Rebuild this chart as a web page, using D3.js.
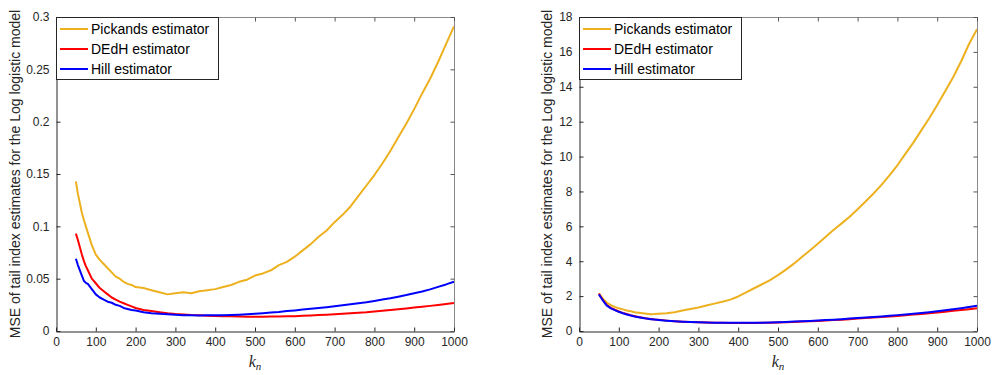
<!DOCTYPE html>
<html><head><meta charset="utf-8">
<script src="https://cdn.jsdelivr.net/npm/d3@7"></script>
<style>body{margin:0;background:#fff}svg{display:block}</style>
</head><body>
<svg id="chart" width="995" height="375"></svg>
<script>
const kValues = [50,55,60,65,70,75,80,90,100,110,120,130,140,150,160,170,180,190,200,
  220,240,260,280,300,320,340,360,380,400,420,440,460,480,500,520,540,560,580,600,
  620,640,660,680,700,720,740,760,780,800,820,840,860,880,900,920,940,960,980,1000];

const seriesNames = ["Pickands estimator","DEdH estimator","Hill estimator"];
const seriesColors = ["#EDB120","#FF0000","#0000FF"];

// Left panel
const leftPickands = [.143,.131,.122,.113,.106,.100,.094,
  .082,.073,.068,.064,.060,.056,.052,.050,.047,.045,.044,.042,
  .041,.039,.037,.035,.036,.037,.036,.038,.039,.040,.042,.044,.047,.049,.053,.055,.058,.063,.066,.071,
  .077,.083,.090,.096,.104,.111,.119,.129,.139,.149,.160,.172,.185,.198,.212,.227,.241,.257,.274,.291];
const leftDEdH = [.093,.087,.080,.073,.067,.062,.058,
  .050,.0456,.041,.038,.035,.032,.030,.028,.0265,.025,.0235,.022,
  .020,.019,.018,.017,.0162,.0157,.0152,.015,.0146,.0143,.0141,.014,.0138,.0137,.0137,.0137,.0138,.0139,.014,.0142,
  .0145,.0148,.0152,.0156,.016,.0165,.017,.0175,.018,.0187,.0194,.0201,.0208,.0216,.0224,.0232,.024,.0249,.0258,.0268];
const leftHill = [.069,.063,.058,.053,.048,.046,.045,
  .040,.035,.032,.030,.028,.027,.025,.024,.022,.021,.020,.0195,
  .018,.017,.0165,.016,.0155,.015,.015,.0148,.015,.015,.015,.0153,.0156,.016,.0165,.017,.0176,.0182,.019,.0197,
  .0205,.0213,.022,.0228,.0237,.0246,.0255,.0265,.0275,.0287,.030,.0313,.0328,.0343,.036,.0378,.0398,.0422,.0445,.047];

// Right panel
const rightPickands = [2.15,2.0,1.85,1.73,1.63,1.55,1.48,
  1.38,1.30,1.24,1.18,1.13,1.08,1.05,1.02,0.99,0.96,0.97,0.99,
  1.02,1.08,1.17,1.26,1.35,1.46,1.57,1.68,1.80,1.98,2.22,2.45,2.68,2.92,3.20,3.52,3.86,4.24,4.62,5.0,
  5.40,5.80,6.17,6.55,6.98,7.42,7.88,8.38,8.92,9.50,10.15,10.80,11.50,12.20,12.95,13.75,14.55,15.45,16.45,17.3];
const rightDEdH = [2.15,1.95,1.78,1.63,1.48,1.40,1.33,
  1.22,1.12,1.04,0.97,0.90,0.85,0.80,0.76,0.72,0.69,0.66,0.64,
  0.595,0.56,0.53,0.51,0.495,0.485,0.475,0.47,0.465,0.46,0.46,0.465,0.47,0.48,0.49,0.505,0.52,0.54,0.56,0.58,
  0.60,0.625,0.65,0.68,0.71,0.74,0.77,0.80,0.83,0.865,0.90,0.94,0.98,1.02,1.06,1.11,1.16,1.21,1.25,1.30];
const rightHill = [2.1,1.92,1.75,1.6,1.45,1.38,1.30,
  1.20,1.10,1.02,0.95,0.89,0.83,0.79,0.75,0.71,0.68,0.655,0.63,
  0.59,0.56,0.53,0.51,0.50,0.49,0.48,0.475,0.47,0.47,0.47,0.475,0.48,0.49,0.50,0.52,0.54,0.56,0.58,0.60,
  0.625,0.65,0.68,0.71,0.74,0.77,0.80,0.835,0.87,0.91,0.95,0.99,1.03,1.08,1.13,1.19,1.25,1.31,1.38,1.45];

const xTicks = [0,100,200,300,400,500,600,700,800,900,1000];
const leftYTicks = [0,0.05,0.1,0.15,0.2,0.25,0.3];
const rightYTicks = [0,2,4,6,8,10,12,14,16,18];
const yLabelText = "MSE of tail index estimates for the Log logistic model";

const svg = d3.select("#chart");
const FONT = "'Liberation Sans', Arial, Helvetica, sans-serif";

function panel(x0, x1, yMax, yTicks, series, ylabX, tickFmt) {
  const top = 17, bottom = 331;
  const x = d3.scaleLinear().domain([0,1000]).range([x0,x1]);
  const y = d3.scaleLinear().domain([0,yMax]).range([bottom,top]);
  const g = svg.append("g");

  const line = d3.line().x((d,i)=>x(kValues[i])).y(d=>y(d));
  series.forEach((s,i)=>{
    g.append("path").datum(s).attr("d",line).attr("fill","none")
      .attr("stroke",seriesColors[i]).attr("stroke-width",2).attr("stroke-linejoin","round");
  });

  g.append("line").attr("x1",x0).attr("x2",x1).attr("y1",top+0.5).attr("y2",top+0.5).attr("stroke","#8a8a8a");
  g.append("line").attr("x1",x1+0.5).attr("x2",x1+0.5).attr("y1",top).attr("y2",bottom).attr("stroke","#8a8a8a");

  const xb = d3.axisBottom(x).tickValues(xTicks).tickSizeInner(-4).tickSizeOuter(0).tickPadding(6).tickFormat(d3.format("d"));
  const gx = g.append("g").attr("transform",`translate(0,${bottom+0.5})`).call(xb);
  const xt = d3.axisTop(x).tickValues(xTicks).tickSizeInner(-4).tickSizeOuter(0).tickFormat("");
  const gxt = g.append("g").attr("transform",`translate(0,${top+0.5})`).call(xt);
  const yl = d3.axisLeft(y).tickValues(yTicks).tickSizeInner(-4).tickSizeOuter(0).tickPadding(7).tickFormat(tickFmt);
  const gy = g.append("g").attr("transform",`translate(${x0+0.5},0)`).call(yl);
  const yr = d3.axisRight(y).tickValues(yTicks).tickSizeInner(-4).tickSizeOuter(0).tickFormat("");
  const gyr = g.append("g").attr("transform",`translate(${x1+0.5},0)`).call(yr);

  [gx,gy].forEach(a=>{
    a.select(".domain").attr("stroke","#262626");
    a.selectAll(".tick line").attr("stroke","#262626");
    a.selectAll("text").attr("fill","#262626").style("font-family",FONT).style("font-size","12px");
  });
  [gxt,gyr].forEach(a=>{
    a.select(".domain").remove();
    a.selectAll(".tick line").attr("stroke","#555");
  });

  g.append("text").attr("transform",`translate(${ylabX},${(top+bottom)/2}) rotate(-90)`)
    .attr("text-anchor","middle").attr("dominant-baseline","middle")
    .style("font-family",FONT).style("font-size","14px").attr("fill","#262626").text(yLabelText);

  const xl = g.append("text").attr("x",(x0+x1)/2).attr("y",367).attr("text-anchor","middle")
    .style("font-family","'Liberation Serif','Times New Roman',serif").style("font-style","italic")
    .style("font-size","16px").attr("fill","#262626");
  xl.append("tspan").text("k");
  xl.append("tspan").attr("dy",3).style("font-size","11px").text("n");

  const lg = g.append("g");
  lg.append("rect").attr("x",x0+0.5).attr("y",top+0.5).attr("width",162).attr("height",62)
    .attr("fill","#fff").attr("stroke","#262626").attr("stroke-width",1);
  seriesNames.forEach((n,i)=>{
    const yy = top + 12 + i*20;
    lg.append("line").attr("x1",x0+4).attr("x2",x0+32).attr("y1",yy).attr("y2",yy)
      .attr("stroke",seriesColors[i]).attr("stroke-width",2);
    lg.append("text").attr("x",x0+35).attr("y",yy+1).attr("dominant-baseline","middle")
      .style("font-family",FONT).style("font-size","14px").attr("fill","#000").text(n);
  });
}

panel(56, 454, 0.3, leftYTicks, [leftPickands,leftDEdH,leftHill], 16, d=>d===0?"0":String(d));
panel(579, 977, 18, rightYTicks, [rightPickands,rightDEdH,rightHill], 548, d3.format("d"));
</script>
</body></html>
